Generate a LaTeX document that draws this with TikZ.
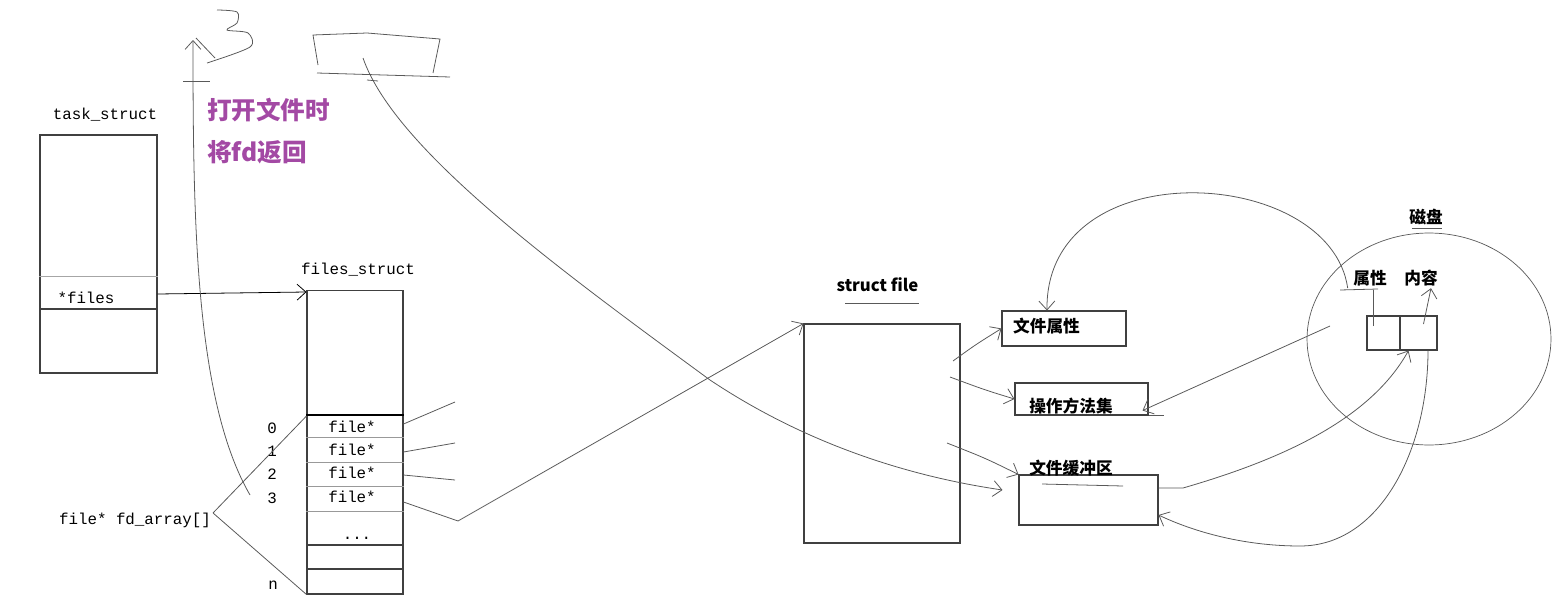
\documentclass[tikz,border=0pt]{standalone}
\usepackage{fontspec}
\setmonofont{Liberation Mono}
\newfontfamily\cjk{Noto Sans CJK SC}
\usepackage{tikz}
\usetikzlibrary{arrows.meta, positioning, shapes.geometric}
\usepackage{xcolor}
\definecolor{penpurple}{RGB}{163,73,164}

\begin{document}
\begin{tikzpicture}[x=0.02cm,y=-0.02cm,>={Straight Barb[length=5pt,width=9pt]}]
  \tikzstyle{box}=[draw=black!75,line width=0.6pt,inner sep=0pt]
  \tikzstyle{mono}=[font=\ttfamily\fontsize{9}{10}\selectfont,inner sep=1pt]
  \tikzstyle{tag}=[font=\cjk\bfseries\fontsize{9.5}{11}\selectfont,inner sep=1pt]
  \tikzstyle{note}=[font=\cjk\bfseries\fontsize{14}{16}\selectfont,text=penpurple,inner sep=1pt]
  \tikzstyle{pen}=[draw=black!65,line width=0.45pt]

  \useasboundingbox (0,0) rectangle (1566,612);

  % task_struct
  \node[box,minimum width=2.34cm,minimum height=4.76cm] (task) at (98.5,254) {};
  \node[mono] (tasklbl) at (105,115) {task\_struct};
  \draw[draw=black!35] (task.west |- 0,276) -- (task.east |- 0,276);
  \draw[box] (task.west |- 0,309) -- (task.east |- 0,309);
  \node[mono] (filesptr) at (86,298) {*files};

  % files_struct with fd_array
  \node[box,minimum width=1.92cm,minimum height=6.08cm] (files) at (355,442) {};
  \node[mono] (fileslbl) at (358,270) {files\_struct};
  \draw[line width=1pt] (files.west |- 0,415) -- (files.east |- 0,415);
  \foreach \y in {437,462,486,511}
    \draw[draw=black!40] (files.west |- 0,\y) -- (files.east |- 0,\y);
  \foreach \y in {545,569}
    \draw[box] (files.west |- 0,\y) -- (files.east |- 0,\y);
  \foreach \i/\y in {0/428,1/451,2/474,3/498}{
    \node[mono] (fd\i) at (352,\y-1) {file*};
    \node[mono] (idx\i) at (272,\y) {\i};
  }
  \node[mono] (dots) at (357,538) {...};
  \node[mono] (idxn) at (273,585) {n};
  \node[mono] (fdarr) at (135,520) {file* fd\_array[]};

  \draw[pen,->,draw=black] (task.east |- 0,294) -- (files.west |- 0,292);
  \draw[pen] ([yshift=4pt]fdarr.east) -- (files.west |- 0,416);
  \draw[pen] ([yshift=4pt]fdarr.east) -- (files.south west);

  % file* pointers
  \coordinate (p0) at (455,402);
  \coordinate (p1) at (455,443);
  \coordinate (p2) at (455,480);
  \coordinate (p3) at (458,521);
  \draw[pen] (files.east |- 0,424) -- (p0);
  \draw[pen] (files.east |- 0,452) -- (p1);
  \draw[pen] (files.east |- 0,475) -- (p2);

  % open() returns fd
  \coordinate (up0) at (250,495);
  \coordinate (up1) at (193,40);
  \draw[pen,->] (up0) .. controls (195,400) and (193,220) .. (up1);
  \draw[pen] (183,81) -- (210,81);
  \draw[pen] (196,38) -- (215,58);
  \draw[pen] plot[smooth] coordinates {(207,63) (250,47) (248,33) (227,30) (237,23) (237,12) (217,10)};
  \node[note,anchor=west] (note1) at (205,110) {打开文件时};
  \node[note,anchor=west] (note2) at (205,152) {将fd返回};

  % buffer doodle
  \coordinate (dd) at (363,58);
  \draw[pen] (318,65) -- (313,35) -- (367,33) -- (440,39) -- (433,73);
  \draw[pen] (317,73) -- (450,77);
  \draw[pen] (367,80) -- (378,81);

  % struct file
  \node[box,minimum width=3.12cm,minimum height=4.38cm] (sfile) at (882,433.5) {};
  \node[tag] (sfilelbl) at (877.5,285) {struct file};
  \draw[pen] (845,303) -- (919,303);
  \draw[pen,->] (files.east |- 0,502) -- (p3) -- (sfile.north west);

  \node[box,minimum width=2.48cm,minimum height=0.7cm] (attr) at (1064,328.5) {};
  \node[tag,anchor=west] (attrlbl) at (1011,326) {文件属性};
  \node[box,minimum width=2.66cm,minimum height=0.64cm] (ops) at (1081.5,399) {};
  \node[tag] (opslbl) at (1071,406) {操作方法集};
  \node[box,minimum width=2.78cm,minimum height=1cm] (buf) at (1088.5,500) {};
  \node[tag] (buflbl) at (1071,468) {文件缓冲区};
  \draw[pen] (1042,484) -- (1123,486);
  \draw[pen] (ops.south east) -- ++(0.3cm,0);

  \coordinate (sa) at (953,361);
  \coordinate (sb) at (950,377);
  \coordinate (sc) at (947,443);
  \draw[pen,->] (sa) .. controls (975,345) .. (attr.west);
  \draw[pen,->] (sb) .. controls (985,390) .. (ops.west);
  \draw[pen,->] (sc) .. controls (985,458) .. (buf.north west);
  \draw[pen,->] (dd) .. controls (395,150) and (560,270) .. (710,380)
    .. controls (800,440) and (900,475) .. ([xshift=-0.32cm,yshift=0.2cm]buf.west);

  % disk
  \node[draw=black!65,ellipse,minimum width=4.88cm,minimum height=4.24cm,inner sep=0pt] (disk) at (1429,339) {};
  \node[tag] (disklbl) at (1426,217) {磁盘};
  \draw[pen] (1412,228) -- (1442,228);
  \node[box,minimum width=0.66cm,minimum height=0.68cm] (cella) at (1383.5,333) {};
  \node[box,minimum width=0.74cm,minimum height=0.68cm] (cellb) at (1418.5,333) {};
  \node[tag] (attrdisk) at (1370,278) {属性};
  \node[tag] (datadisk) at (1421,278) {内容};
  \draw[pen] (1340,290) -- (1378,289);
  \draw[pen] (1373,326) -- (1373,290);
  \draw[pen,->] ([xshift=0.1cm,yshift=0.18cm]cellb.center) -- ([xshift=0.2cm]datadisk.south);

  \draw[pen,->] ([xshift=-2pt]attrdisk.south west) .. controls (1330,165) and (1045,150) .. (attr.north -| 1047,0);
  \draw[pen,->] (1330,326) -- ([xshift=-0.12cm,yshift=0.1cm]ops.south east);
  \draw[pen,->] (buf.east |- 0,488) -- (1183,488) .. controls (1280,460) and (1370,420) .. ([xshift=-0.2cm]cellb.south);
  \draw[pen,->] ([xshift=0.19cm]cellb.south) .. controls (1428,450) and (1380,546) .. (1300,546)
    .. controls (1240,546) and (1190,530) .. (buf.east |- 0,515);
\end{tikzpicture}
\end{document}
